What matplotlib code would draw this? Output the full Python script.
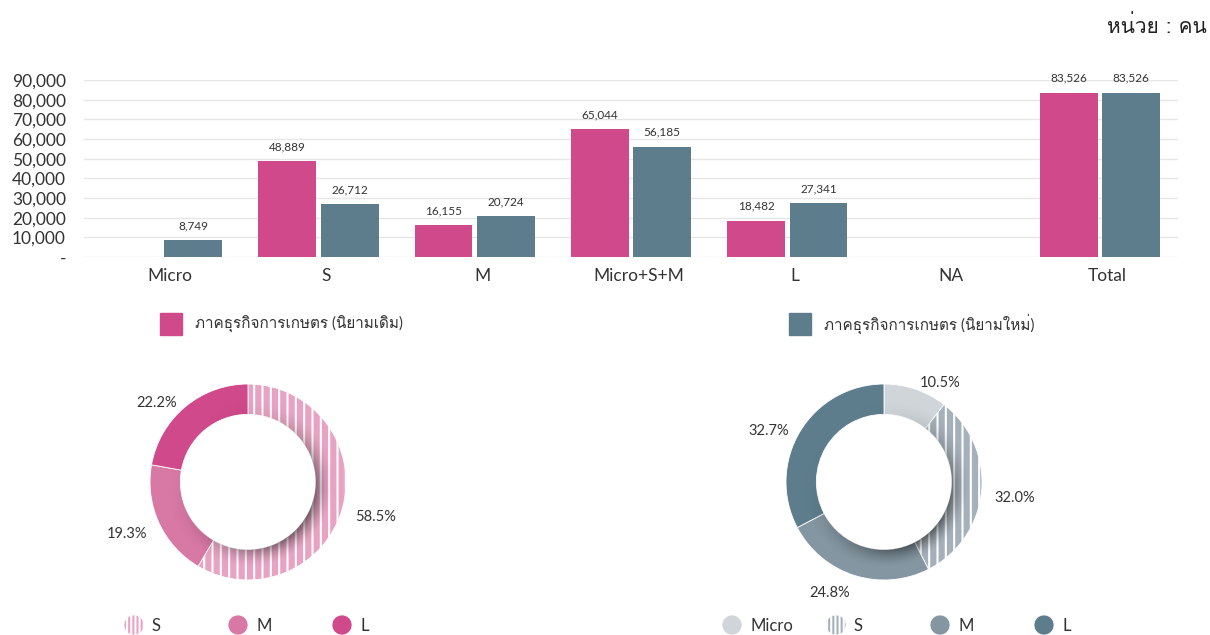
import matplotlib
matplotlib.use("Agg")
import numpy as np
import matplotlib.pyplot as plt
from matplotlib import font_manager
from matplotlib.ft2font import FT2Font
from matplotlib.patches import Circle, Wedge
from matplotlib.ticker import FuncFormatter

# --- data ---
categories = ["Micro", "S", "M", "Micro+S+M", "L", "NA", "Total"]
old_def = [0, 48889, 16155, 65044, 18482, 0, 83526]
new_def = [8749, 26712, 20724, 56185, 27341, 0, 83526]
series_names = ["ภาคธุรกิจการเกษตร (นิยามเดิม)", "ภาคธุรกิจการเกษตร (นิยามใหม่)"]

old_pie_labels = ["S", "M", "L"]
old_pie_values = [58.5, 19.3, 22.2]
new_pie_labels = ["Micro", "S", "M", "L"]
new_pie_values = [10.5, 32.0, 24.8, 32.7]

PINK = "#D0498A"
TEAL = "#5E7D8C"
old_pie_colors = ["#E8A3C3", "#D878A5", "#D0498A"]
new_pie_colors = ["#D0D5D9", "#A5B1BA", "#8496A1", "#5E7D8C"]
TXT = "#333333"


# find a regular-weight font that can draw Thai
def find_thai_font():
    found = []
    for f in font_manager.fontManager.ttflist:
        try:
            cm = FT2Font(f.fname).get_charmap()
        except Exception:
            continue
        if ord("ก") in cm and ord("ิ") in cm:
            found.append(f)
    for f in found:
        if f.weight in (400, "normal", "regular") and f.style == "normal":
            return f.name
    return found[0].name if found else None


thai = find_thai_font()
thai_list = [thai] if thai else []
plt.rcParams["font.family"] = ["Lato"] + thai_list + ["DejaVu Sans"]
plt.rcParams["hatch.linewidth"] = 1.5

W, H = 1210, 635
fig = plt.figure(figsize=(W / 100, H / 100), dpi=100)


def fx(px):
    return px / W


def fy(py):
    return 1 - py / H


# --- bar chart ---
ax = fig.add_axes([fx(84), fy(257), fx(1178) - fx(84), fy(80) - fy(257)])
x = list(range(len(categories)))
bw = 0.37
b1 = ax.bar([i - 0.2 for i in x], old_def, bw, color=PINK, zorder=3)
b2 = ax.bar([i + 0.2 for i in x], new_def, bw, color=TEAL, zorder=3)
for bars, vals in ((b1, old_def), (b2, new_def)):
    for b, v in zip(bars, vals):
        if v > 0:
            ax.text(b.get_x() + b.get_width() / 2, v + 4500, f"{v:,}",
                    ha="center", va="bottom", fontsize=8.5, color=TXT, clip_on=False)

ax.set_xlim(-0.5, len(categories) - 0.5)
ax.set_ylim(0, 90000)
ax.set_yticks(range(0, 90001, 10000))
ax.yaxis.set_major_formatter(FuncFormatter(lambda v, p: "-" if v == 0 else f"{int(v):,}"))
ax.set_xticks([i + 0.05 for i in x])
ax.set_xticklabels(categories)
ax.tick_params(axis="both", length=0, colors=TXT)
ax.tick_params(axis="y", labelsize=12.5, pad=13)
ax.tick_params(axis="x", labelsize=12.5, pad=8)
ax.grid(axis="y", color="#E6E6E6", linewidth=1, zorder=0)
for s in ax.spines.values():
    s.set_visible(False)

# overlay axes in pixel coordinates for legends / title
ov = fig.add_axes([0, 0, 1, 1], zorder=5)
ov.set_xlim(0, W)
ov.set_ylim(H, 0)
ov.axis("off")

ov.text(1207, 26, "หน่วย : คน", ha="right", va="center", fontsize=15,
        color="#222222", family=thai_list + ["DejaVu Sans"])

for (sx, col, name) in ((160, PINK, series_names[0]), (789, TEAL, series_names[1])):
    ov.add_patch(plt.Rectangle((sx, 313), 22, 22, color=col))
    ov.text(sx + 35, 324, name, ha="left", va="center", fontsize=11, color=TXT)


# --- donuts ---
def donut(cx, values, colors, hatch_idx, shade_center):
    r_px = 98
    lim = 1.35
    ring = 0.31
    size = r_px * lim
    a = fig.add_axes([fx(cx - size), fy(482 + size), 2 * size / W, 2 * size / H])
    wedges, texts = a.pie(values, colors=colors, startangle=90, counterclock=False,
                          labels=[f"{v:.1f}%" for v in values], labeldistance=1.13,
                          wedgeprops=dict(width=ring, edgecolor="white", linewidth=0.6),
                          textprops=dict(fontsize=10.5, color=TXT))
    wedges[hatch_idx].set_hatch("||")
    for t in texts:
        t.set_clip_on(False)
        px, py = t.get_position()
        t.set_position((px, py - 0.06))

    # soft inner shadow on the lower-right side of the ring
    g = np.linspace(-1, 1, 500)
    gx, gy = np.meshgrid(g, g)
    r = np.hypot(gx, gy)
    th = np.degrees(np.arctan2(gy, gx))
    d = (th - shade_center + 180) % 360 - 180
    ang = np.exp(-0.5 * (d / 55) ** 2)
    rad = np.clip(1 - (r - (1 - ring)) / (ring * 0.6), 0, 1) ** 1.6
    rgba = np.zeros((500, 500, 4))
    rgba[..., 3] = 0.5 * ang * rad
    im = a.imshow(rgba, extent=(-1, 1, -1, 1), origin="lower", zorder=3, interpolation="bilinear")
    clip = Wedge((0, 0), 1, 0, 360, width=ring, transform=a.transData)
    im.set_clip_path(clip)

    a.set_xlim(-lim, lim)
    a.set_ylim(-lim, lim)
    a.set_aspect("equal")
    a.axis("off")


donut(248, old_pie_values, old_pie_colors, 0, -35)
donut(884, new_pie_values, new_pie_colors, 1, -45)


# pie legends
def pie_legend(x0, labels, colors, hatch_idx):
    for k, (lab, col) in enumerate(zip(labels, colors)):
        cx = x0 + k * 104
        c = Circle((cx, 625), 10, facecolor=col, edgecolor="white", linewidth=0.5)
        if k == hatch_idx:
            c.set_hatch("||||")
        ov.add_patch(c)
        ov.text(cx + 18, 626, lab, ha="left", va="center", fontsize=12, color=TXT)


pie_legend(134, old_pie_labels, old_pie_colors, 0)
pie_legend(732, new_pie_labels, new_pie_colors, 1)

fig.savefig("out.png", dpi=100)
